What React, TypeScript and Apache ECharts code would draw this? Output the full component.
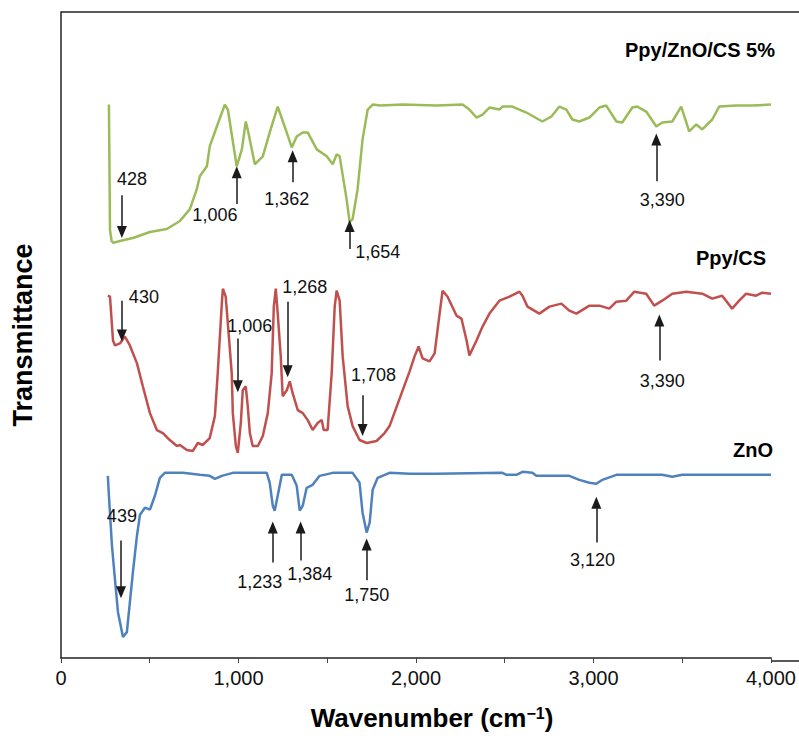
import React, { useEffect, useRef } from "react";
import * as echarts from "echarts";

// ---------- data (wavenumber cm^-1, transmittance in arbitrary offset units) ----------
const seriesNames = ["Ppy/ZnO/CS 5%", "Ppy/CS", "ZnO"];
const xTickValues = [0, 1000, 2000, 3000, 4000];
const xTickLabels = ["0", "1,000", "2,000", "3,000", "4,000"];

const ppyZnoCs: number[][] = [
  [270, 556], [276, 430], [285, 419], [295, 417], [332, 419], [405, 422], [501, 428], [596, 431],
  [670, 439], [726, 451], [765, 471], [782, 484], [822, 494], [838, 514], [878, 534], [923, 556],
  [940, 551], [990, 494], [1019, 511], [1041, 539], [1052, 531], [1092, 496], [1137, 504], [1176, 528],
  [1221, 554], [1260, 534], [1300, 513], [1328, 524], [1345, 526], [1362, 528], [1390, 528], [1441, 511],
  [1497, 504], [1531, 496], [1553, 506], [1570, 504], [1609, 461], [1626, 438], [1643, 441], [1671, 471],
  [1699, 521], [1728, 551], [1756, 556], [1800, 555], [1924, 556], [2116, 555], [2262, 556], [2301, 551],
  [2341, 543], [2375, 546], [2414, 553], [2470, 551], [2487, 554], [2543, 554], [2622, 548], [2712, 539],
  [2763, 544], [2808, 554], [2847, 551], [2881, 541], [2920, 539], [2977, 543], [3033, 553], [3072, 555],
  [3129, 539], [3162, 538], [3219, 553], [3247, 554], [3297, 549], [3354, 534], [3387, 538], [3444, 539],
  [3494, 554], [3523, 538], [3539, 529], [3579, 536], [3613, 531], [3669, 541], [3708, 554], [3804, 555],
  [3894, 555], [4000, 556],
];

const ppyCs: number[][] = [
  [264, 364], [276, 363], [293, 319], [304, 314], [332, 316], [360, 323], [388, 314], [428, 296],
  [461, 273], [501, 246], [540, 229], [574, 226], [613, 219], [653, 213], [670, 214], [709, 209],
  [743, 208], [771, 216], [799, 214], [838, 221], [867, 243], [883, 286], [906, 356], [912, 371],
  [928, 363], [940, 336], [962, 286], [968, 246], [985, 213], [996, 206], [1013, 236], [1024, 269],
  [1041, 273], [1052, 253], [1064, 226], [1080, 213], [1109, 213], [1137, 223], [1165, 246], [1187, 286],
  [1199, 353], [1210, 371], [1221, 346], [1238, 303], [1249, 263], [1272, 269], [1289, 278], [1305, 266],
  [1334, 249], [1362, 246], [1390, 239], [1418, 229], [1446, 236], [1469, 239], [1480, 229], [1502, 229],
  [1525, 286], [1542, 353], [1553, 369], [1570, 359], [1587, 303], [1615, 253], [1643, 233], [1682, 219],
  [1722, 216], [1778, 218], [1823, 226], [1851, 233], [1964, 288], [1992, 303], [2015, 313], [2037, 301],
  [2076, 298], [2105, 306], [2133, 346], [2150, 369], [2178, 363], [2228, 344], [2256, 341], [2285, 319],
  [2301, 304], [2341, 319], [2375, 333], [2414, 346], [2470, 359], [2527, 363], [2583, 368], [2600, 364],
  [2628, 353], [2695, 346], [2752, 353], [2819, 356], [2864, 349], [2904, 346], [2977, 354], [3033, 354],
  [3089, 351], [3129, 358], [3185, 359], [3230, 368], [3297, 366], [3342, 354], [3387, 359], [3444, 366],
  [3523, 368], [3613, 366], [3669, 361], [3725, 364], [3781, 351], [3821, 359], [3860, 366], [3916, 364],
  [3950, 367], [4000, 366],
];

const zno: number[][] = [
  [264, 183], [270, 163], [287, 113], [304, 79], [321, 46], [349, 21], [371, 26], [388, 56],
  [405, 86], [428, 123], [445, 144], [473, 151], [501, 149], [529, 163], [557, 181], [585, 186],
  [687, 186], [782, 184], [838, 183], [867, 180], [906, 183], [968, 186], [1159, 186], [1176, 176],
  [1193, 153], [1204, 148], [1221, 163], [1244, 184], [1300, 184], [1328, 173], [1345, 148], [1362, 153],
  [1384, 171], [1418, 174], [1457, 183], [1531, 186], [1643, 186], [1682, 176], [1699, 146], [1722, 126],
  [1739, 136], [1756, 169], [1784, 181], [1851, 186], [1964, 185], [2116, 185], [2487, 186], [2510, 184],
  [2566, 184], [2600, 187], [2656, 186], [2678, 183], [2864, 183], [2920, 179], [2977, 176], [3016, 175],
  [3050, 179], [3129, 184], [3387, 184], [3444, 182], [3500, 184], [3708, 184], [4000, 184],
];

// peak annotations: label, arrow wavenumber, arrow tail value, arrow tip value, label wavenumber, label value
const ppyZnoCsPeaks: (string | number)[][] = [
  ["428", 343, 465, 428, 400, 481],
  ["1,006", 990, 456, 488, 867, 445],
  ["1,362", 1305, 478, 504, 1272, 461],
  ["1,654", 1626, 411, 434, 1784, 408],
  ["3,390", 3354, 479, 521, 3387, 460],
];
const ppyCsPeaks: (string | number)[][] = [
  ["430", 343, 359, 324, 467, 363],
  ["1,006", 996, 321, 273, 1064, 334],
  ["1,268", 1277, 358, 288, 1373, 373],
  ["1,708", 1699, 264, 229, 1761, 284],
  ["3,390", 3371, 299, 339, 3387, 278],
];
const znoPeaks: (string | number)[][] = [
  ["439", 338, 118, 66, 343, 143],
  ["1,233", 1193, 96, 131, 1120, 76],
  ["1,384", 1350, 98, 131, 1401, 84],
  ["1,750", 1722, 78, 114, 1722, 63],
  ["3,120", 3016, 116, 156, 2994, 98],
];

const colors = ["#9BBB59", "#C0504D", "#4F81BD"];
const FONT = '"Liberation Sans", Arial, sans-serif';

function makeSeries(name: string, data: number[][], peaks: (string | number)[][], color: string) {
  return {
    name,
    type: "line",
    data,
    showSymbol: false,
    smooth: false,
    lineStyle: { color, width: 2.5 },
    itemStyle: { color },
    z: 2,
    markLine: {
      silent: true,
      symbol: ["none", "triangle"],
      symbolSize: 11,
      precision: 4,
      lineStyle: { color: "#1a1a1a", width: 1.5, type: "solid" },
      itemStyle: { color: "#111" },
      label: { show: false },
      emphasis: { disabled: true },
      data: peaks.map((p) => [
        { coord: [p[1], p[2]], symbol: "none" },
        { coord: [p[1], p[3]], symbol: "triangle", symbolSize: [10, 12] },
      ]),
    },
    markPoint: {
      silent: true,
      symbol: "circle",
      symbolSize: 0,
      label: {
        show: true,
        position: "inside",
        color: "#111",
        fontSize: 18,
        fontFamily: FONT,
        formatter: (params: any) => params.name,
      },
      data: peaks.map((p) => ({ name: p[0], coord: [p[4], p[5]], value: p[0] })),
    },
  };
}

export default function App() {
  const ref = useRef<HTMLDivElement>(null);
  useEffect(() => {
    if (!ref.current) return;
    const chart = echarts.init(ref.current, undefined, { renderer: "svg" });
    chart.setOption({
      animation: false,
      backgroundColor: "#ffffff",
      grid: { left: 61, right: 27, top: 12, bottom: 75, containLabel: false },
      xAxis: {
        type: "value",
        min: 0,
        max: 4000,
        interval: 500,
        name: "Wavenumber (cm{sup|\u22121})",
        nameLocation: "middle",
        nameGap: 47,
        nameTextStyle: {
          fontSize: 26,
          fontWeight: "bold",
          fontFamily: FONT,
          color: "#000",
          padding: [0, 0, 0, 32],
          rich: {
            sup: { fontSize: 16, fontWeight: "bold", fontFamily: FONT, color: "#000", verticalAlign: "top", padding: [0, 0, 10, 0] },
          },
        },
        axisLine: { show: true, lineStyle: { color: "#222", width: 1.5 } },
        axisTick: { show: true, length: 5, inside: false, lineStyle: { color: "#444", width: 1 } },
        axisLabel: {
          fontSize: 20,
          fontFamily: FONT,
          color: "#111",
          margin: 10,
          formatter: (v: number) => {
            const i = xTickValues.indexOf(v);
            return i >= 0 ? xTickLabels[i] : "";
          },
        },
        splitLine: { show: false },
      },
      yAxis: {
        type: "value",
        min: 0,
        max: 649,
        name: "Transmittance",
        nameLocation: "middle",
        nameRotate: 90,
        nameGap: 25,
        nameTextStyle: { fontSize: 27, fontWeight: "bold", fontFamily: FONT, color: "#000" },
        axisLine: { show: true, lineStyle: { color: "#222", width: 1.5 } },
        axisTick: { show: false },
        axisLabel: { show: false },
        splitLine: { show: false },
      },
      graphic: [
        { type: "line", shape: { x1: 61, y1: 12, x2: 799, y2: 12 }, style: { stroke: "#222", lineWidth: 1.5 }, silent: true },
        { type: "line", shape: { x1: 772, y1: 661, x2: 799, y2: 661 }, style: { stroke: "#222", lineWidth: 1.5 }, silent: true },
        {
          type: "text", right: 24, top: 40,
          style: { text: seriesNames[0], fontSize: 20, fontWeight: "bold", fontFamily: FONT, fill: "#000" },
        },
        {
          type: "text", right: 33, top: 248,
          style: { text: seriesNames[1], fontSize: 20, fontWeight: "bold", fontFamily: FONT, fill: "#000" },
        },
        {
          type: "text", right: 26, top: 440,
          style: { text: seriesNames[2], fontSize: 20, fontWeight: "bold", fontFamily: FONT, fill: "#000" },
        },
      ],
      series: [
        makeSeries(seriesNames[0], ppyZnoCs, ppyZnoCsPeaks, colors[0]),
        makeSeries(seriesNames[1], ppyCs, ppyCsPeaks, colors[1]),
        makeSeries(seriesNames[2], zno, znoPeaks, colors[2]),
      ],
    });
    return () => chart.dispose();
  }, []);
  return (
    <div
      ref={ref}
      style={{ position: "fixed", left: 0, top: 0, width: 799, height: 736, background: "#fff" }}
    />
  );
}
